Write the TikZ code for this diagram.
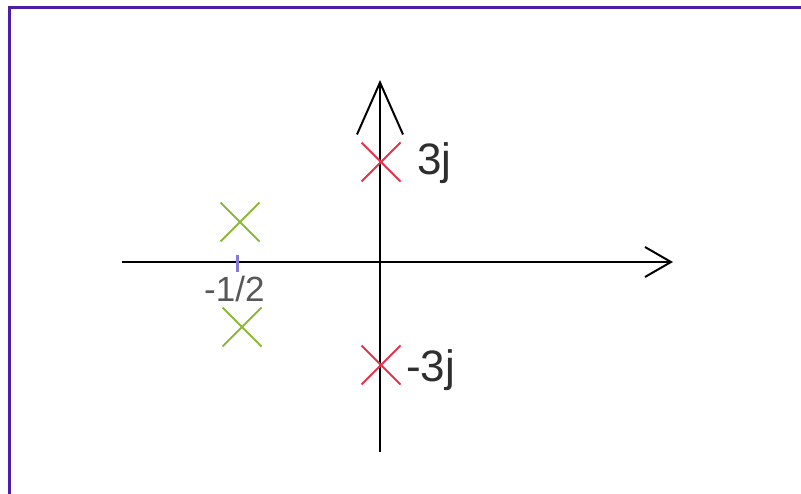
\documentclass[tikz,border=0pt]{standalone}
\usepackage{fontspec}
\setmainfont{Liberation Sans}
\usepackage{xcolor}
\usepackage{tikz}
\usetikzlibrary{arrows.meta, shapes.misc}

\definecolor{frameviolet}{HTML}{4B1FA8}
\definecolor{polered}{HTML}{E8324A}
\definecolor{polegreen}{HTML}{8DB83A}
\definecolor{tickviolet}{HTML}{8A78D8}
\definecolor{labelgray}{HTML}{2E2E2E}

\tikzset{
  axis/.style={line width=2pt, black},
  pole/.style={cross out, draw, line width=2pt, minimum size=37pt, inner sep=0pt},
  polelabel/.style={anchor=base west, inner sep=0pt, text=labelgray,
    font=\fontsize{44}{46}\selectfont}
}

\begin{document}
\begin{tikzpicture}[x=1pt, y=-1pt]
  \useasboundingbox (0,0) rectangle (801,494);

  % frame (only top and left sides show)
  \draw[frameviolet, line width=3pt] (9,494) -- (9,8) -- (801,8);

  % axes
  \coordinate (origin) at (380,262);
  \coordinate (west) at (122,262);
  \coordinate (east) at (673,262);
  \coordinate (south) at (380,452);
  \coordinate (north) at (380,80);
  \draw[axis, -{Straight Barb[length=26pt, width=30pt, line width=2pt]}] (west) -- (east);
  \draw[axis, -{Straight Barb[length=52pt, width=46pt, line width=2pt]}] (south) -- (north);

  % poles on the imaginary axis
  \node[pole, polered] (pup) at (381,162) {};
  \node[pole, polered] (pdown) at (381,365) {};
  \node[polelabel] (lup) at (417,175) {3j};
  \node[polelabel] (ldown) at (406,382) {-3j};

  % poles at -1/2
  \node[pole, polegreen] (gup) at (240,222) {};
  \node[pole, polegreen] (gdown) at (242,327) {};
  \coordinate (ticktop) at (237,255);
  \coordinate (tickbot) at (237,272);
  \draw[tickviolet, line width=3pt] (ticktop) -- (tickbot);
  \node[polelabel, font=\fontsize{35}{37}\selectfont, text=labelgray!80] (lhalf) at (204,302) {-1/2};

\end{tikzpicture}
\end{document}
